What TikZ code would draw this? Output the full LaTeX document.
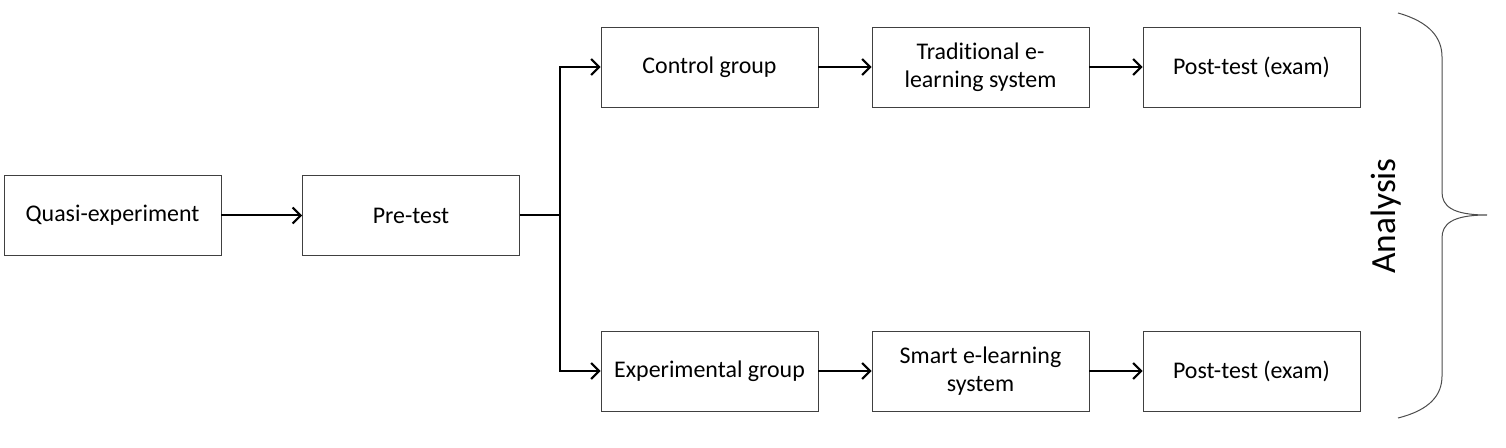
\documentclass[tikz,border=0pt]{standalone}
\usepackage{fontspec}
\setmainfont[Ligatures={NoCommon}]{Carlito}
\usetikzlibrary{arrows.meta}
\begin{document}
\begin{tikzpicture}[x=1bp,y=-1bp,
  box/.style={draw=black!75,line width=0.9bp,minimum width=217bp,minimum height=80bp,inner sep=0pt,align=center,font=\fontsize{24}{28}\selectfont},
  conn/.style={draw=black,line width=2bp,-{Straight Barb[length=8bp,width=16bp]}},
  plain/.style={draw=black,line width=2bp}]
\useasboundingbox (0,0) rectangle (1506,448);
\node[box] (quasi) at (112.5,215.5) {Quasi-experiment};
\node[box] (pre) at (411,215.5) {Pre-test};
\node[box] (ctrl) at (709.5,67) {Control group};
\node[box] (trad) at (980.5,67) {Traditional e-\\learning system};
\node[box] (post1) at (1251.5,67) {Post-test (exam)};
\node[box] (exp) at (709.5,371) {Experimental group};
\node[box] (smart) at (980.5,371) {Smart e-learning\\system};
\node[box] (post2) at (1251.5,371) {Post-test (exam)};
\coordinate (split) at (560,215.5);
\draw[conn] (quasi) -- (pre);
\draw[plain] (pre.east) -- (split);
\draw[conn] (split) |- (ctrl.west);
\draw[conn] (split) |- (exp.west);
\draw[conn] (ctrl) -- (trad);
\draw[conn] (trad) -- (post1);
\draw[conn] (exp) -- (smart);
\draw[conn] (smart) -- (post2);
\draw[draw=black!70,line width=1bp] (1398,13) .. controls (1430,22) and (1442,38) .. (1442,57)
  -- (1442,192) .. controls (1442,206) and (1452,215) .. (1487,215)
  .. controls (1452,215) and (1442,224) .. (1442,238)
  -- (1442,376) .. controls (1442,395) and (1430,410) .. (1398,418);
\node[rotate=90,font=\fontsize{35.5}{40}\selectfont,inner sep=0pt] (analysis) at (1386,216) {Analysis};
\end{tikzpicture}
\end{document}
